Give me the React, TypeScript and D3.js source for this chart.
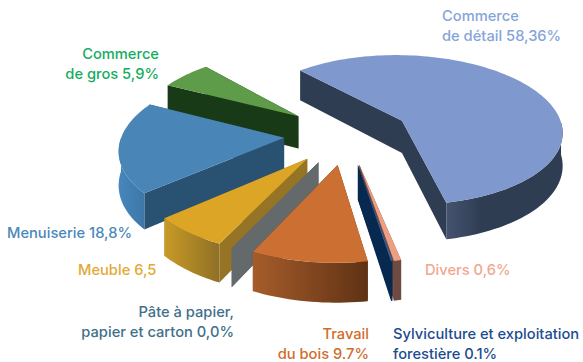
import React from "react";
import * as d3 from "d3";

const categories = ["Commerce de détail", "Divers", "Sylviculture et exploitation forestière", "Travail du bois", "Pâte à papier, papier et carton", "Meuble", "Menuiserie", "Commerce de gros"];
const values = [58.36, 0.6, 0.1, 9.7, 0.0, 6.5, 18.8, 5.9];
const topColors = ["#7f98cd", "#ec9f85", "#3a6cae", "#cb6f33", "#6b7072", "#dca526", "#4a85b7", "#5f9c49"];
const wallColors = ["#2f3d53", "#6f4a40", "#08294f", "#5f3214", "#646a6b", "#957425", "#285172", "#193a16"];
const arcLeft = ["#46536f", "#6f4a40", "#08294f", "#a65c2b", "#646a6b", "#c89a26", "#4787bb", "#193a16"];
const arcRight = ["#2f3d53", "#6f4a40", "#08294f", "#5f3214", "#646a6b", "#8f7026", "#3d77a8", "#193a16"];
const drawOrder = [7, 0, 6, 1, 2, 5, 4, 3];
const labelLines = [
  { lines: ["Commerce", "de détail 58,36%"], x: 442, y: 21, anchor: "start", color: "#86a4da" },
  { lines: ["Commerce", "de gros 5,9%"], x: 159, y: 58.5, anchor: "end", color: "#14ad60" },
  { lines: ["Menuiserie 18,8%"], x: 7, y: 238, anchor: "start", color: "#4b87ba" },
  { lines: ["Meuble 6,5"], x: 78, y: 275, anchor: "start", color: "#e3a934" },
  { lines: ["Divers 0,6%"], x: 425, y: 275, anchor: "start", color: "#f0a78f" },
  { lines: ["Pâte à papier,", "papier et carton 0,0%"], x: 234, y: 316.5, anchor: "end", color: "#40708a" },
  { lines: ["Travail", "du bois 9.7%"], x: 369, y: 339, anchor: "end", color: "#cf6d2c" },
  { lines: ["Sylviculture et exploitation", "forestière 0.1%"], x: 393, y: 339, anchor: "start", color: "#1c4c90" },
];

const cx = 347, cy = 134, R = 162, E = 63, K = 0.475, D = 1300, H = 33;
const radius = d3.scaleLinear().domain([0, 1]).range([0, R]);
const startDeg = -42;

type P = [number, number];
function project(X: number, Y: number, drop = 0): P {
  const s = D / (D - Y);
  return [cx + X * s, cy + (Y * K + drop) * s];
}
function world(mid: number, a: number, r: number, drop = 0): P {
  const X = E * Math.sin(mid) + r * Math.sin(a);
  const Y = -E * Math.cos(mid) - r * Math.cos(a);
  return project(X, Y, drop);
}
const line = d3.line<P>();

export default function App() {
  const a0 = (startDeg * Math.PI) / 180;
  const pie = d3.pie<number>().sort(null).startAngle(a0).endAngle(a0 + 2 * Math.PI);
  const arcs = pie(values);
  const slices = arcs.map((arc, i) => {
    const mid = (arc.startAngle + arc.endAngle) / 2;
    const n = Math.max(2, Math.ceil((arc.endAngle - arc.startAngle) / 0.03));
    const angles = d3.range(n + 1).map((j) => arc.startAngle + ((arc.endAngle - arc.startAngle) * j) / n);
    const apex = world(mid, 0, 0);
    const apexB = world(mid, 0, 0, H);
    const rim = angles.map((a) => world(mid, a, radius(1)));
    const rimB = angles.map((a) => world(mid, a, radius(1), H));
    const first = rim[0], last = rim[rim.length - 1];
    const firstB = rimB[0], lastB = rimB[rimB.length - 1];
    // only the part of the rim that faces the viewer gets an outer wall
    const front = angles.map((a, j) => (Math.cos(a) < 0 ? j : -1)).filter((j) => j >= 0);
    const fr = front.map((j) => rim[j]);
    const frB = front.map((j) => rimB[j]);
    const x0 = d3.min(fr, (p) => p[0]) ?? first[0];
    const x1 = d3.max(fr, (p) => p[0]) ?? last[0];
    return {
      i, x0, x1,
      top: line([apex, ...rim])! + "Z",
      wallA: line([apex, first, firstB, apexB])! + "Z",
      wallB: line([apex, last, lastB, apexB])! + "Z",
      outer: fr.length > 1 ? line([...fr, ...[...frB].reverse()])! + "Z" : "",
    };
  });
  return (
    <svg width={583} height={362} style={{ position: "absolute", left: 0, top: 0 }} fontFamily="Inter, sans-serif">
      <defs>
        {slices.map((s) => (
          <linearGradient key={s.i} id={`g${s.i}`} gradientUnits="userSpaceOnUse" x1={s.x0} x2={s.x1} y1={0} y2={0}>
            <stop offset={0} stopColor={arcLeft[s.i]} />
            <stop offset={s.i === 0 ? 0.3 : 1} stopColor={arcRight[s.i]} />
          </linearGradient>
        ))}
      </defs>
      {drawOrder.map((i) => {
        const s = slices[i];
        return (
          <g key={i} aria-label={categories[i]}>
            <path d={s.wallA} fill={wallColors[i]} />
            <path d={s.wallB} fill={wallColors[i]} />
            {s.outer && <path d={s.outer} fill={`url(#g${i})`} />}
            <path d={s.top} fill={topColors[i]} />
          </g>
        );
      })}
      {labelLines.map((l, i) => (
        <text key={i} x={l.x} y={l.y} textAnchor={l.anchor as "start" | "end"} fill={l.color} fontSize={14.7} fontWeight={500}>
          {l.lines.map((t, j) => (
            <tspan key={j} x={l.x} dy={j === 0 ? 0 : 20}>{t}</tspan>
          ))}
        </text>
      ))}
    </svg>
  );
}
